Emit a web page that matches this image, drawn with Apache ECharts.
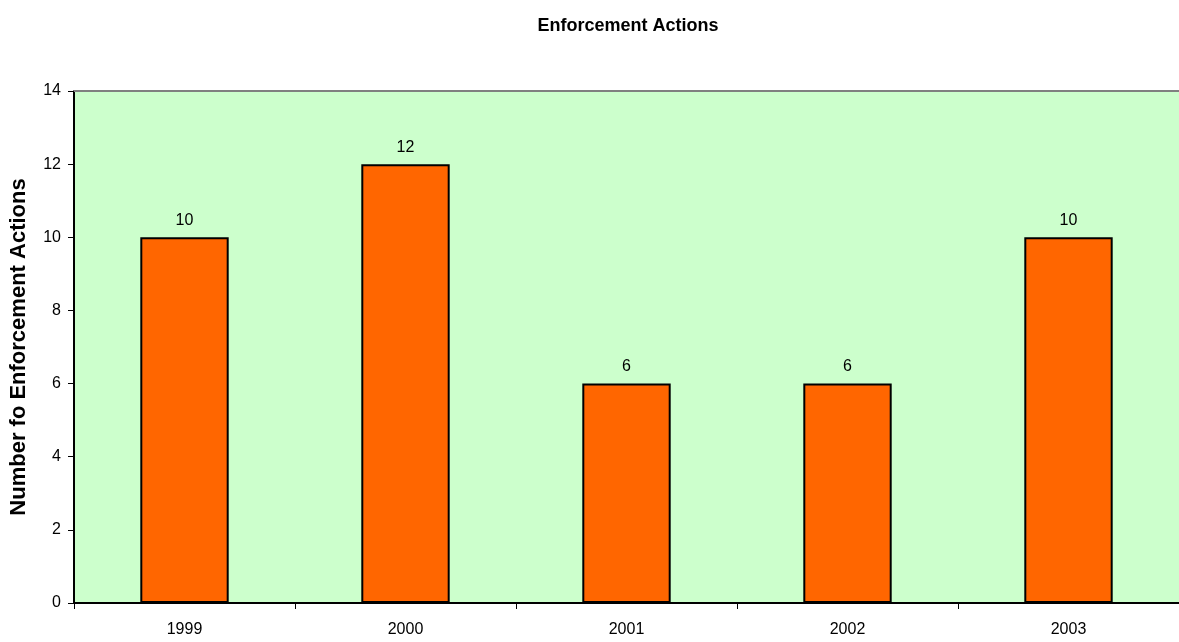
<!DOCTYPE html>
<html>
<head>
<meta charset="utf-8">
<script src="https://cdn.jsdelivr.net/npm/echarts@6/dist/echarts.min.js"></script>
<style>
  html, body { margin: 0; padding: 0; background: #ffffff; }
  #chart { width: 1179px; height: 642px; }
</style>
</head>
<body>
<div id="chart"></div>
<script>
// Enforcement actions per year
const years = ['1999', '2000', '2001', '2002', '2003'];
const actions = [10, 12, 6, 6, 10];
const yTicks = { min: 0, max: 14, interval: 2 };

const chart = echarts.init(document.getElementById('chart'));
const font = 'Liberation Sans, Arial, sans-serif';

chart.setOption({
  animation: false,
  backgroundColor: '#ffffff',
  title: {
    text: 'Enforcement Actions',
    left: 623,
    top: 12,
    textAlign: 'center',
    textStyle: { fontFamily: font, fontSize: 18, fontWeight: 'bold', color: '#000' }
  },
  grid: {
    left: 74, right: 0, top: 91, bottom: 39,
    outerBoundsMode: 'none',
    containLabel: false,
    show: true,
    backgroundColor: '#CCFFCC',
    borderWidth: 0
  },
  xAxis: [{
    type: 'category',
    data: years,
    axisLine: { lineStyle: { color: '#000', width: 2 } },
    axisTick: { show: true, alignWithLabel: false, length: 6, lineStyle: { color: '#000', width: 1 } },
    axisLabel: { fontFamily: font, fontSize: 16, color: '#000', margin: 19 }
  }, {
    type: 'category',
    data: years,
    position: 'top',
    axisLine: { lineStyle: { color: '#808080', width: 2 } },
    axisTick: { show: false },
    axisLabel: { show: false }
  }],
  yAxis: {
    type: 'value',
    min: yTicks.min,
    max: yTicks.max,
    interval: yTicks.interval,
    name: 'Number fo Enforcement Actions',
    nameLocation: 'middle',
    nameRotate: 90,
    nameGap: 44,
    nameTextStyle: { fontFamily: font, fontSize: 22, fontWeight: 'bold', color: '#000' },
    axisLine: { show: true, lineStyle: { color: '#000', width: 2 } },
    axisTick: { show: true, length: 6, lineStyle: { color: '#000', width: 1 } },
    axisLabel: { fontFamily: font, fontSize: 16, color: '#000', margin: 13 },
    splitLine: { show: false }
  },
  series: [{
    type: 'bar',
    data: actions,
    barWidth: '40%',
    itemStyle: { color: '#FF6600', borderColor: '#000', borderWidth: 2 },
    label: {
      show: true,
      position: 'top',
      distance: 9,
      fontFamily: font,
      fontSize: 16,
      color: '#000'
    }
  }]
});
</script>
</body>
</html>
